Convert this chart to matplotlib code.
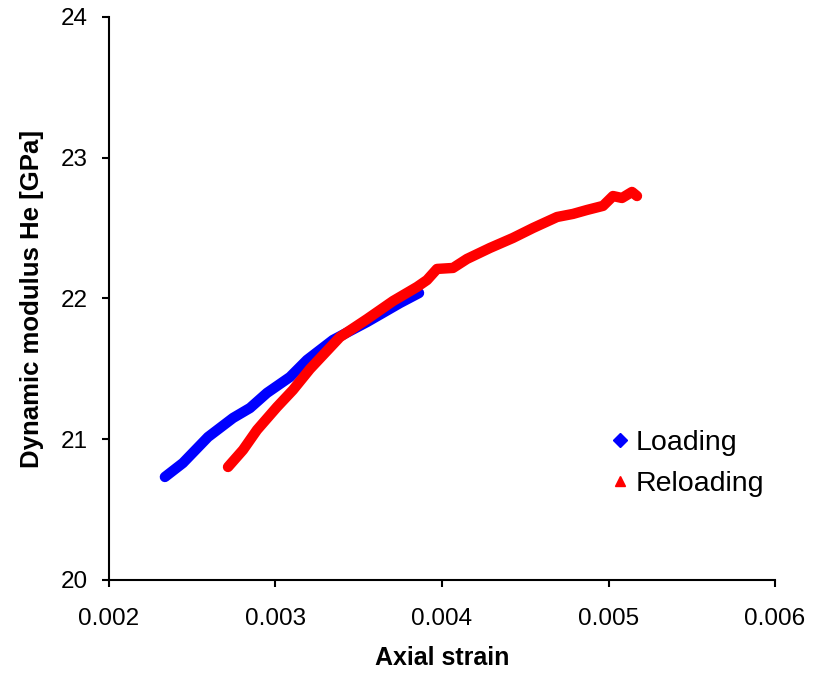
import matplotlib
matplotlib.use("Agg")
import matplotlib.pyplot as plt
from matplotlib.lines import Line2D

plt.rcParams['font.family'] = ['Liberation Sans', 'DejaVu Sans']

# Loading branch
loading_strain = [0.002336, 0.002444, 0.002595, 0.002745, 0.002847, 0.002949,
                  0.003087, 0.003189, 0.003345, 0.003550, 0.003748, 0.003862]
loading_modulus = [20.732, 20.831, 21.016, 21.151, 21.222, 21.329,
                   21.442, 21.563, 21.705, 21.833, 21.968, 22.039]

# Reloading branch
reloading_strain = [0.002715, 0.002805, 0.002889, 0.003009, 0.003105, 0.003207,
                    0.003387, 0.003550, 0.003706, 0.003850, 0.003910, 0.003970,
                    0.004066, 0.004150, 0.004288, 0.004426, 0.004547, 0.004691,
                    0.004787, 0.004871, 0.004967, 0.005027, 0.005081, 0.005141,
                    0.005171]
reloading_modulus = [20.803, 20.924, 21.066, 21.229, 21.350, 21.499,
                     21.726, 21.854, 21.982, 22.082, 22.131, 22.210,
                     22.217, 22.281, 22.359, 22.430, 22.501, 22.579,
                     22.601, 22.629, 22.658, 22.728, 22.714, 22.757,
                     22.728]

x_ticks = [0.002, 0.003, 0.004, 0.005, 0.006]
x_tick_labels = ['0.002', '0.003', '0.004', '0.005', '0.006']
y_ticks = [20, 21, 22, 23, 24]

fig = plt.figure(figsize=(8.23, 6.77), dpi=100)
ax = fig.add_axes([0.1324, 0.1433, 0.8093, 0.8316])

ax.plot(loading_strain, loading_modulus, color='#0000ff', lw=7.5,
        solid_capstyle='round', solid_joinstyle='round', zorder=2)
ax.plot(reloading_strain, reloading_modulus, color='#ff0000', lw=7.5,
        solid_capstyle='round', solid_joinstyle='round', zorder=3)

ax.set_xlim(0.002, 0.006)
ax.set_ylim(20, 24)
ax.set_xticks(x_ticks)
ax.set_xticklabels(x_tick_labels)
ax.set_yticks(y_ticks)

for side in ('top', 'right'):
    ax.spines[side].set_visible(False)
for side in ('left', 'bottom'):
    ax.spines[side].set_linewidth(1.5)
    ax.spines[side].set_color('black')

ax.tick_params(axis='both', direction='out', length=5, width=1.5,
               labelsize=17.5, colors='black')
ax.tick_params(axis='x', pad=15)
ax.tick_params(axis='y', pad=10)

ax.set_xlabel('Axial strain', fontsize=18, fontweight='bold', labelpad=12)
ax.set_ylabel('Dynamic modulus He [GPa]', fontsize=18.5, fontweight='bold', labelpad=12)

handles = [
    Line2D([], [], color='#0000ff', marker='D', markersize=7, linestyle='None'),
    Line2D([], [], color='#ff0000', marker='^', markersize=7, linestyle='None'),
]
ax.legend(handles, ['Loading', 'Reloading'], loc='upper left',
          bbox_to_anchor=(0.7115, 0.3125), frameon=False, fontsize=20.5,
          handlelength=0.8, handletextpad=0.15, labelspacing=0.55)

fig.savefig('out.png', dpi=100)
